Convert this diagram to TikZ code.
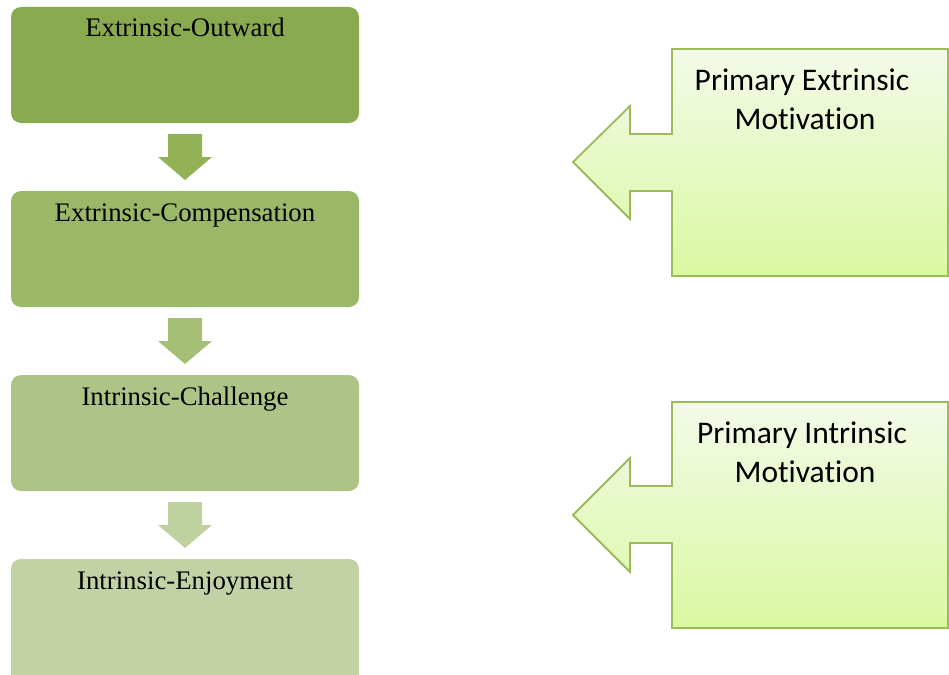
\documentclass[tikz,border=0pt]{standalone}
\usepackage{fontspec}
\setmainfont{Liberation Serif}
\newfontfamily\calfont[Ligatures=NoCommon]{Carlito}
\definecolor{boxA}{HTML}{8AAA4F}
\definecolor{boxB}{HTML}{9BB868}
\definecolor{boxC}{HTML}{AEC487}
\definecolor{boxD}{HTML}{C2D2A4}
\definecolor{arrA}{HTML}{93B255}
\definecolor{arrB}{HTML}{A6BF77}
\definecolor{arrC}{HTML}{C0D1A0}
\definecolor{calTop}{HTML}{F3FAE8}
\definecolor{calBot}{HTML}{DAF8A2}
\definecolor{calLine}{HTML}{9BBB59}
\begin{document}
\begin{tikzpicture}[x=1pt,y=-1pt,
  stagebox/.style={rounded corners=10pt, draw=none, inner sep=0pt, minimum width=348pt, minimum height=116pt},
  stagetext/.style={anchor=base, font=\fontsize{26.8}{30}\selectfont, inner sep=0pt},
  calltext/.style={anchor=base, font=\calfont\fontsize{31.5}{36}\selectfont, inner sep=0pt, align=center},
  callshape/.style={draw=calLine, line width=1.8pt, top color=calTop, bottom color=calBot, shading angle=0},
]
\useasboundingbox (0,0) rectangle (949,674);
% stage boxes
\node[stagebox, fill=boxA] (b1) at (185,65) {};
\node[stagebox, fill=boxB] (b2) at (185,249) {};
\node[stagebox, fill=boxC] (b3) at (185,433) {};
\node[stagebox, fill=boxD, minimum height=130pt] (b4) at (185,624) {};
\node[stagetext] (t1) at (185,37) {Extrinsic-Outward};
\node[stagetext] (t2) at (185,221) {Extrinsic-Compensation};
\node[stagetext] (t3) at (185,405) {Intrinsic-Challenge};
\node[stagetext] (t4) at (185,589) {Intrinsic-Enjoyment};
% down arrows
\fill[arrA] (168,134) -- (202,134) -- (202,157) -- (212,157) -- (185,180) -- (158,157) -- (168,157) -- cycle;
\fill[arrB] (168,318) -- (202,318) -- (202,341) -- (212,341) -- (185,364) -- (158,341) -- (168,341) -- cycle;
\fill[arrC] (168,502) -- (202,502) -- (202,525) -- (212,525) -- (185,548) -- (158,525) -- (168,525) -- cycle;
% callouts
\draw[callshape] (672,49) -- (948,49) -- (948,276) -- (672,276) -- (672,191) -- (630,191) -- (630,219) -- (573,162) -- (630,106) -- (630,134) -- (672,134) -- cycle;
\draw[callshape] (672,402) -- (948,402) -- (948,628) -- (672,628) -- (672,543) -- (630,543) -- (630,572) -- (573,515) -- (630,458) -- (630,486) -- (672,486) -- cycle;
\node[calltext] (c1a) at (802,91) {Primary Extrinsic};
\node[calltext] (c1b) at (805,129) {Motivation};
\node[calltext] (c2a) at (802,443) {Primary Intrinsic};
\node[calltext] (c2b) at (805,482) {Motivation};
\end{tikzpicture}
\end{document}
